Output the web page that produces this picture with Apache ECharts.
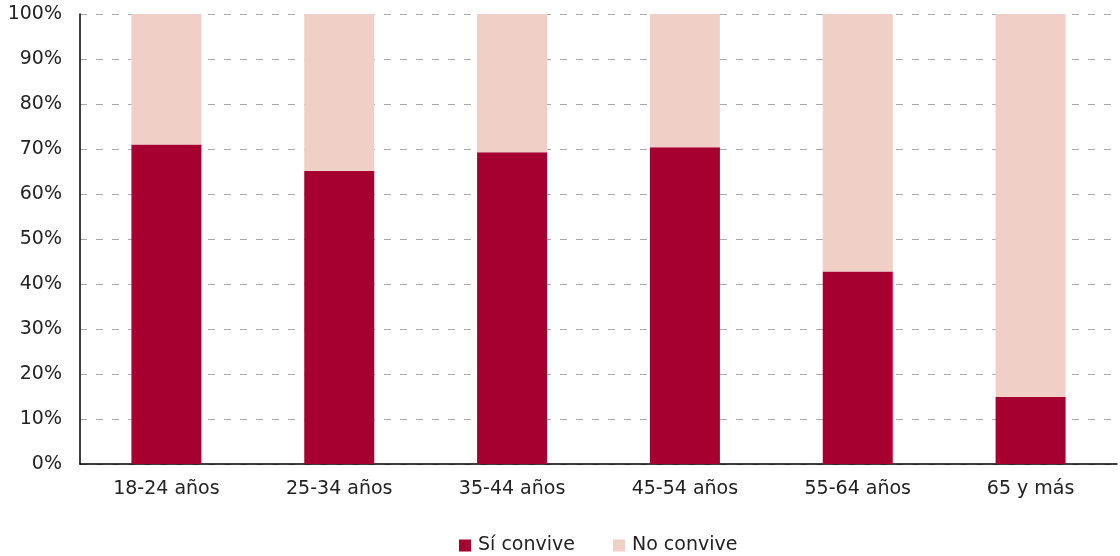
<!DOCTYPE html>
<html><head><meta charset="utf-8">
<script src="https://cdn.jsdelivr.net/npm/echarts@6/dist/echarts.min.js"></script>
<style>html,body{margin:0;padding:0;background:#fff}#c{width:1120px;height:556px}</style>
</head><body><div id="c"></div>
<script>
const categories = ['18-24 años','25-34 años','35-44 años','45-54 años','55-64 años','65 y más'];
const siConvive = [71.0, 65.1, 69.3, 70.4, 42.8, 14.9];
const noConvive = siConvive.map(v => +(100 - v).toFixed(1));
const yTicks = [0,10,20,30,40,50,60,70,80,90,100];
const font = '"DejaVu Sans", Verdana, sans-serif';
const fs = 19;
const chart = echarts.init(document.getElementById('c'));
chart.setOption({
  animation: false,
  textStyle: {fontFamily: font},
  grid: {left: 80, right: 3, top: 14, bottom: 92},
  legend: {
    top: 531, left: 454, itemWidth: 12, itemHeight: 12, itemGap: 38,
    icon: 'rect',
    textStyle: {fontFamily: font, fontSize: fs, color: '#222', padding: [0,0,0,2]},
    data: ['Sí convive','No convive']
  },
  xAxis: {
    type: 'category', data: categories,
    axisLine: {lineStyle: {color: '#000', width: 1.5}},
    axisTick: {show: false},
    axisLabel: {fontFamily: font, fontSize: fs, color: '#222', margin: 16}
  },
  yAxis: {
    type: 'value', min: yTicks[0], max: yTicks[yTicks.length-1], interval: 10,
    axisLine: {show: true, lineStyle: {color: '#000', width: 1.5}},
    axisTick: {show: false},
    axisLabel: {fontFamily: font, fontSize: fs, color: '#222', margin: 18, formatter: '{value}%'},
    splitLine: {lineStyle: {color: '#aaa', type: [7, 9], width: 1}}
  },
  series: [
    {name: 'Sí convive', type: 'bar', stack: 't', data: siConvive, barWidth: 70,
     itemStyle: {color: '#A50030'}},
    {name: 'No convive', type: 'bar', stack: 't', data: noConvive, barWidth: 70,
     itemStyle: {color: '#EFCFC6'}}
  ]
});
</script></body></html>
